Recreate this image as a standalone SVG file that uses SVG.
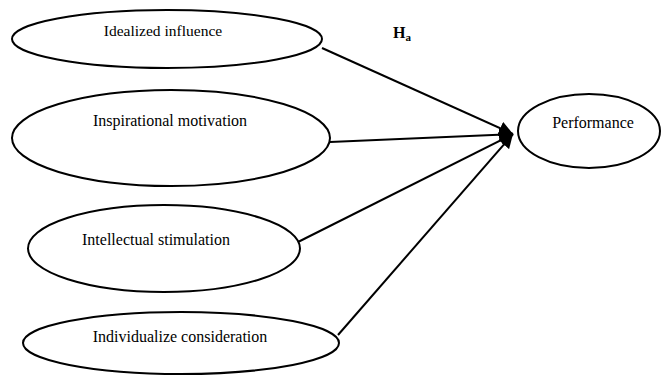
<svg xmlns="http://www.w3.org/2000/svg" width="662" height="376" viewBox="0 0 662 376">
<defs>
<style>
.node ellipse{fill:#fff;stroke:#000;stroke-width:2}
.node text{font-family:"Liberation Serif","Times New Roman",serif;font-size:16px;fill:#000;text-anchor:middle}
.conn line{stroke:#000;stroke-width:2}
.lbl{font-family:"Liberation Serif","Times New Roman",serif;font-weight:bold;fill:#000}
</style>
<marker id="ah" viewBox="0 0 10 10" refX="10" refY="5" markerWidth="7" markerHeight="7" markerUnits="strokeWidth" orient="auto">
<path d="M0,0 L10,5 L0,10 z" fill="#000"/>
</marker>
</defs>
<rect width="662" height="376" fill="#fff"/>
<g id="connectors" class="conn">
<line x1="322" y1="48" x2="513" y2="134" marker-end="url(#ah)"/>
<line x1="330" y1="142" x2="513" y2="134" marker-end="url(#ah)"/>
<line x1="298" y1="242" x2="513" y2="134" marker-end="url(#ah)"/>
<line x1="338" y1="335" x2="513" y2="134" marker-end="url(#ah)"/>
</g>
<g id="idealized" class="node">
<ellipse cx="167" cy="39" rx="155" ry="29"/>
<text x="163" y="36" style="font-size:15.5px">Idealized influence</text>
</g>
<g id="inspirational" class="node">
<ellipse cx="171" cy="138" rx="159" ry="48"/>
<text x="170" y="126">Inspirational motivation</text>
</g>
<g id="intellectual" class="node">
<ellipse cx="164" cy="248.5" rx="136" ry="43.5"/>
<text x="156" y="245">Intellectual stimulation</text>
</g>
<g id="individualize" class="node">
<ellipse cx="181" cy="343" rx="158" ry="31"/>
<text x="180" y="342">Individualize consideration</text>
</g>
<g id="performance" class="node">
<ellipse cx="589" cy="131" rx="71" ry="37"/>
<text x="593" y="128">Performance</text>
</g>
<text class="lbl" x="393" y="38" font-size="16">H<tspan font-size="11" dy="3">a</tspan></text>
</svg>
